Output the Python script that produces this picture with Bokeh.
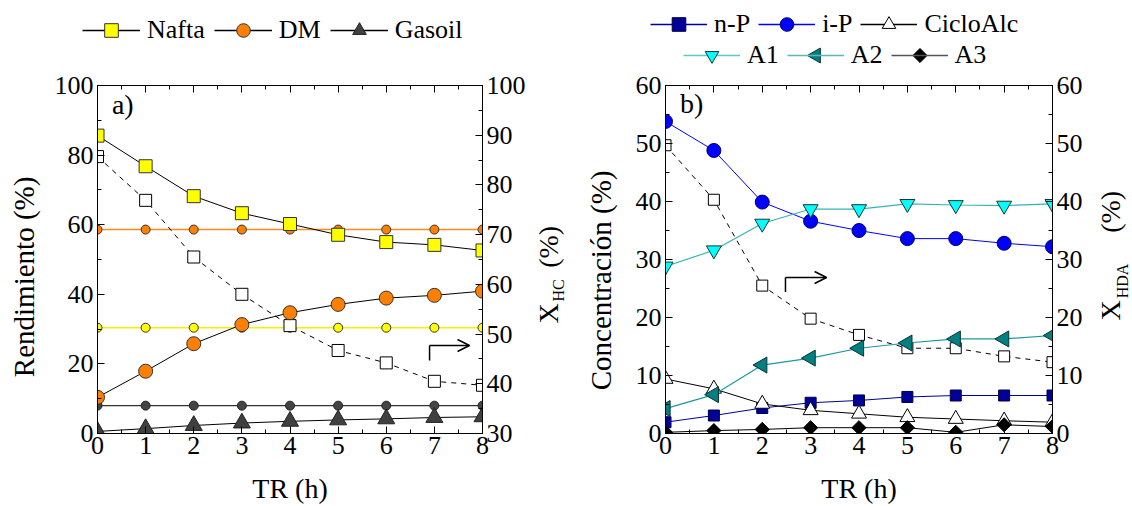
import math
from bokeh.plotting import figure
from bokeh.models import (LinearAxis, Range1d, SingleIntervalTicker, Legend, LegendItem,
                          Label, Arrow, OpenHead)
from bokeh.layouts import row, column
from bokeh.embed import file_html
from bokeh.resources import INLINE

# ---------------- data ----------------
TR = [0, 1, 2, 3, 4, 5, 6, 7, 8]

# panel a) yields (%), left axis
nafta = [85.6, 76.8, 68.2, 63.3, 60.2, 57.1, 55.0, 54.2, 52.6]
dm = [10.4, 17.9, 25.8, 31.3, 34.7, 37.1, 38.9, 39.7, 40.9]
gasoil = [0.6, 1.4, 2.3, 3.0, 3.5, 3.9, 4.2, 4.6, 4.8]
dm_ref = [58.6] * 9
nafta_ref = [30.4] * 9
gasoil_ref = [8.0] * 9
# X_HC (%), right axis
x_hc = [85.7, 76.9, 65.5, 58.0, 51.7, 46.7, 44.2, 40.5, 39.7]

# panel b) concentrations (%)
n_p = [1.95, 3.1, 4.4, 5.3, 5.7, 6.3, 6.55, 6.55, 6.55]
i_p = [53.8, 48.8, 39.9, 36.6, 35.0, 33.6, 33.6, 32.8, 32.2]
cicloalc = [9.4, 7.7, 5.1, 4.0, 3.4, 2.8, 2.5, 2.2, 1.95]
a1 = [28.8, 31.6, 36.2, 38.7, 38.7, 39.6, 39.4, 39.3, 39.6]
a2 = [4.3, 6.7, 11.8, 13.0, 14.7, 15.6, 16.3, 16.3, 16.9]
a3 = [0.2, 0.5, 0.7, 1.0, 1.0, 1.0, 0.2, 1.5, 1.2]
# X_HDA (%), right axis
x_hda = [49.7, 40.3, 25.5, 19.8, 17.0, 14.7, 14.7, 13.3, 12.3]

FONT = "Liberation Serif"
TICK_SIZE = "26px"
TITLE_SIZE = "28px"
YTITLE_SIZE = "29px"
LEG_H = 72
MAIN_H = 506 - LEG_H
TOP = 85 - LEG_H
BOTTOM = 73
LEFT_TRI = math.pi / 2   # triangle turned to point left
DIAMOND = math.pi / 4    # square turned into a diamond
STRIP0 = 1000            # legend strips: pixel-like ranges that start here


def style_axis(ax, interval, labels=True):
    ax.ticker = SingleIntervalTicker(interval=interval, num_minor_ticks=2)
    ax.major_tick_in = 7
    ax.major_tick_out = 0
    ax.minor_tick_in = 4
    ax.minor_tick_out = 0
    ax.axis_line_color = "black"
    ax.major_tick_line_color = "black"
    ax.minor_tick_line_color = "black"
    ax.major_label_text_font = FONT
    ax.major_label_text_color = "black"
    ax.major_label_standoff = 4
    if labels:
        ax.major_label_text_font_size = TICK_SIZE
    else:
        ax.major_label_text_font_size = "1px"
        ax.major_label_text_color = None
        ax.major_label_standoff = 0
    ax.axis_label_text_font = FONT
    ax.axis_label_text_font_size = TITLE_SIZE
    ax.axis_label_text_font_style = "normal"
    ax.axis_label_text_color = "black"


def make_fig(width, ymax, left_border, right_border):
    p = figure(width=width, height=MAIN_H, x_range=Range1d(0, 8), y_range=Range1d(0, ymax),
               output_backend="svg", toolbar_location=None,
               min_border_left=left_border, min_border_right=right_border,
               min_border_top=TOP, min_border_bottom=BOTTOM)
    p.grid.visible = False
    p.outline_line_color = "black"
    p.outline_line_width = 1
    p.background_fill_color = "white"
    p.border_fill_color = "white"
    return p


def make_blank(width, height, x_range, y_range, top=0, bottom=0):
    t = figure(width=width, height=height, x_range=x_range, y_range=y_range,
               output_backend="svg", toolbar_location=None,
               x_axis_location=None, y_axis_location=None,
               min_border_left=0, min_border_right=0, min_border_top=top,
               min_border_bottom=bottom)
    t.grid.visible = False
    t.outline_line_color = None
    t.background_fill_color = "white"
    t.border_fill_color = "white"
    return t


def vlabel(fig, x, y, text, size, align="left"):
    fig.add_layout(Label(x=x, y=y, text=text, angle=math.pi / 2, text_align=align,
                         text_baseline="middle", text_font=FONT, text_font_size=size,
                         text_color="black"))


def legend_entry(fig, label, ys, line_color, marker=None, size=None, fill=None, edge=None):
    # legend strip: series drawn out of its visible range, only the legend glyph shows
    rs = [fig.line(TR, ys, line_color=line_color, line_width=1.3)]
    if marker is not None:
        rs.append(fig.scatter(TR, ys, marker=marker, size=size, fill_color=fill,
                              line_color=edge))
    return LegendItem(label=label, renderers=rs)


leg_kw = dict(orientation="horizontal", glyph_height=34, label_height=34,
              label_standoff=7, padding=0, margin=0, border_line_color=None,
              background_fill_alpha=0, label_text_font=FONT, label_text_font_size="26px",
              label_text_color="black")

# ---------------- panel a ----------------
s1 = make_blank(45, MAIN_H, Range1d(0, 1), Range1d(0, 100), top=TOP, bottom=BOTTOM)
vlabel(s1, 0.53, 45.0, "Rendimiento (%)", YTITLE_SIZE, align="center")

p1 = make_fig(483, 100, 52, 45)
p1.extra_y_ranges = {"right": Range1d(30, 100)}
style_axis(p1.xaxis[0], 1)
style_axis(p1.yaxis[0], 20)
p1.xaxis[0].axis_label = "TR (h)"
p1.xaxis[0].major_label_standoff = 3
p1.xaxis[0].axis_label_standoff = 16
ra = LinearAxis(y_range_name="right")
style_axis(ra, 10)
p1.add_layout(ra, "right")
ta = LinearAxis()
style_axis(ta, 1, labels=False)
p1.add_layout(ta, "above")

# reference horizontal lines
p1.line(TR, dm_ref, line_color="#ff8c1a", line_width=1.5)
p1.scatter(TR, dm_ref, marker="circle", size=9, fill_color="#ff7f00", line_color="#333333")
p1.line(TR, nafta_ref, line_color="#f2f200", line_width=1.5)
p1.scatter(TR, nafta_ref, marker="circle", size=9, fill_color="#ffff00", line_color="#333333")
p1.line(TR, gasoil_ref, line_color="#333333", line_width=1.2)
p1.scatter(TR, gasoil_ref, marker="circle", size=9, fill_color="#444444", line_color="#222222")

p1.line(TR, x_hc, y_range_name="right", line_color="black", line_dash="5 5", line_width=1)
p1.scatter(TR, x_hc, y_range_name="right", marker="square", size=12, fill_color="white",
           line_color="black")

p1.line(TR, nafta, line_color="black", line_width=1)
p1.scatter(TR, nafta, marker="square", size=13, fill_color="#ffff00", line_color="#333333")
p1.line(TR, dm, line_color="black", line_width=1)
p1.scatter(TR, dm, marker="circle", size=14, fill_color="#ff7f00", line_color="#333333")
p1.line(TR, gasoil, line_color="black", line_width=1)
p1.scatter(TR, gasoil, marker="triangle", size=17, fill_color="#404040", line_color="#222222")

p1.add_layout(Label(x=0.3, y=94.5, text="a)", text_font=FONT, text_font_size=TITLE_SIZE,
                    text_baseline="middle", text_color="black"))
p1.add_layout(Arrow(end=None, x_start=6.9, y_start=21.0, x_end=6.9, y_end=25.3,
                    line_color="black", line_width=1.5))
p1.add_layout(Arrow(end=OpenHead(size=12, line_width=1.5, line_color="black"),
                    x_start=6.9, y_start=25.3, x_end=7.73, y_end=25.3,
                    line_color="black", line_width=1.5))

# right-axis title X_HC (%) in a narrow strip
t1 = make_blank(38, MAIN_H, Range1d(0, 1), Range1d(0, 100), top=TOP, bottom=BOTTOM)
vlabel(t1, 0.526, 31.6, "X", TITLE_SIZE)
vlabel(t1, 0.80, 37.9, "HC", "16px")
vlabel(t1, 0.526, 47.6, "(%)", TITLE_SIZE)

# legend strip a (its ranges keep the series themselves out of view)
lf1 = make_blank(566, LEG_H, Range1d(STRIP0, STRIP0 + 566), Range1d(STRIP0, STRIP0 + LEG_H))
leg1 = Legend(items=[legend_entry(lf1, "Nafta", nafta, "black", "square", 13, "#ffff00",
                                  "#333333"),
                     legend_entry(lf1, "DM", dm, "black", "circle", 14, "#ff7f00", "#333333"),
                     legend_entry(lf1, "Gasoil", gasoil, "black", "triangle", 15, "#404040",
                                  "#222222")],
              location=(82, LEG_H - 47), glyph_width=58, spacing=9, **leg_kw)
lf1.add_layout(leg1)

# ---------------- panel b ----------------
s2 = make_blank(54, MAIN_H, Range1d(0, 1), Range1d(0, 60), top=TOP, bottom=BOTTOM)
vlabel(s2, 0.64, 26.4, "Concentración (%)", YTITLE_SIZE, align="center")

p2 = make_fig(476, 60, 45, 44)
p2.extra_y_ranges = {"right": Range1d(0, 60)}
style_axis(p2.xaxis[0], 1)
style_axis(p2.yaxis[0], 10)
p2.xaxis[0].axis_label = "TR (h)"
p2.xaxis[0].major_label_standoff = 3
p2.xaxis[0].axis_label_standoff = 16
rb = LinearAxis(y_range_name="right")
style_axis(rb, 10)
p2.add_layout(rb, "right")
tb = LinearAxis()
style_axis(tb, 1, labels=False)
p2.add_layout(tb, "above")

p2.line(TR, x_hda, y_range_name="right", line_color="black", line_dash="5 5", line_width=1)
p2.scatter(TR, x_hda, y_range_name="right", marker="square", size=11, fill_color="white",
           line_color="black")

p2.line(TR, n_p, line_color="#000099", line_width=1)
p2.scatter(TR, n_p, marker="square", size=11, fill_color="#000099", line_color="#000044")
p2.line(TR, i_p, line_color="#0000ff", line_width=1)
p2.scatter(TR, i_p, marker="circle", size=14, fill_color="#0000ff", line_color="#000066")
p2.line(TR, cicloalc, line_color="black", line_width=1)
p2.scatter(TR, cicloalc, marker="triangle", size=15, fill_color="white", line_color="black")
p2.line(TR, a1, line_color="#33b5b5", line_width=1.2)
p2.scatter(TR, a1, marker="inverted_triangle", size=15, fill_color="#00ffff",
           line_color="#1a3333")
p2.line(TR, a2, line_color="#1a9a9a", line_width=1.2)
p2.scatter(TR, a2, marker="triangle", angle=LEFT_TRI, size=16, fill_color="#008080",
           line_color="#0d3333")
p2.line(TR, a3, line_color="black", line_width=1)
p2.scatter(TR, a3, marker="square", angle=DIAMOND, size=10, fill_color="black",
           line_color="black")

p2.add_layout(Label(x=0.3, y=56.9, text="b)", text_font=FONT, text_font_size=TITLE_SIZE,
                    text_baseline="middle", text_color="black"))
p2.add_layout(Arrow(end=None, x_start=2.48, y_start=24.4, x_end=2.48, y_end=26.9,
                    line_color="black", line_width=1.5))
p2.add_layout(Arrow(end=OpenHead(size=12, line_width=1.5, line_color="black"),
                    x_start=2.48, y_start=26.9, x_end=3.33, y_end=26.9,
                    line_color="black", line_width=1.5))

t2 = make_blank(36, MAIN_H, Range1d(0, 1), Range1d(0, 60), top=TOP, bottom=BOTTOM)
vlabel(t2, 0.39, 19.5, "X", TITLE_SIZE)
vlabel(t2, 0.72, 23.3, "HDA", "16px")
vlabel(t2, 0.39, 34.6, "(%)", TITLE_SIZE)

# legend strip b (two rows)
lf2 = make_blank(566, LEG_H, Range1d(STRIP0, STRIP0 + 566), Range1d(STRIP0, STRIP0 + LEG_H))
leg2a = Legend(items=[legend_entry(lf2, "n-P", n_p, "#000099", "square", 12, "#000099",
                                   "#000044"),
                      legend_entry(lf2, "i-P", i_p, "#0000ff", "circle", 13, "#0000ff",
                                   "#000066"),
                      legend_entry(lf2, "CicloAlc", cicloalc, "black", "triangle", 14, "white",
                                   "black")],
               location=(84, LEG_H - 41), glyph_width=57, spacing=8, **leg_kw)
leg2b = Legend(items=[legend_entry(lf2, "A1", a1, "#5cc8c8", "inverted_triangle", 14,
                                   "#00ffff", "#1a3333"),
                      legend_entry(lf2, "A2", a2, "#5cb8b8"),
                      legend_entry(lf2, "A3", a3, "#555555")],
               location=(117, 0), glyph_width=57, spacing=8, **leg_kw)
lf2.add_layout(leg2a)
lf2.add_layout(leg2b)
# turned legend keys (Bokeh's legend draws markers unrotated)
lf2.scatter(x=[STRIP0 + 249.5], y=[STRIP0 + 17], marker="triangle", angle=LEFT_TRI, size=15,
            fill_color="#008080", line_color="#0d3333")
lf2.scatter(x=[STRIP0 + 353.5], y=[STRIP0 + 17], marker="square", angle=DIAMOND, size=10,
            fill_color="black", line_color="black")

layout = column(row(lf1, lf2, spacing=0),
                row(s1, p1, t1, s2, p2, t2, spacing=0), spacing=0)
open("out.html", "w").write(file_html(layout, INLINE))
